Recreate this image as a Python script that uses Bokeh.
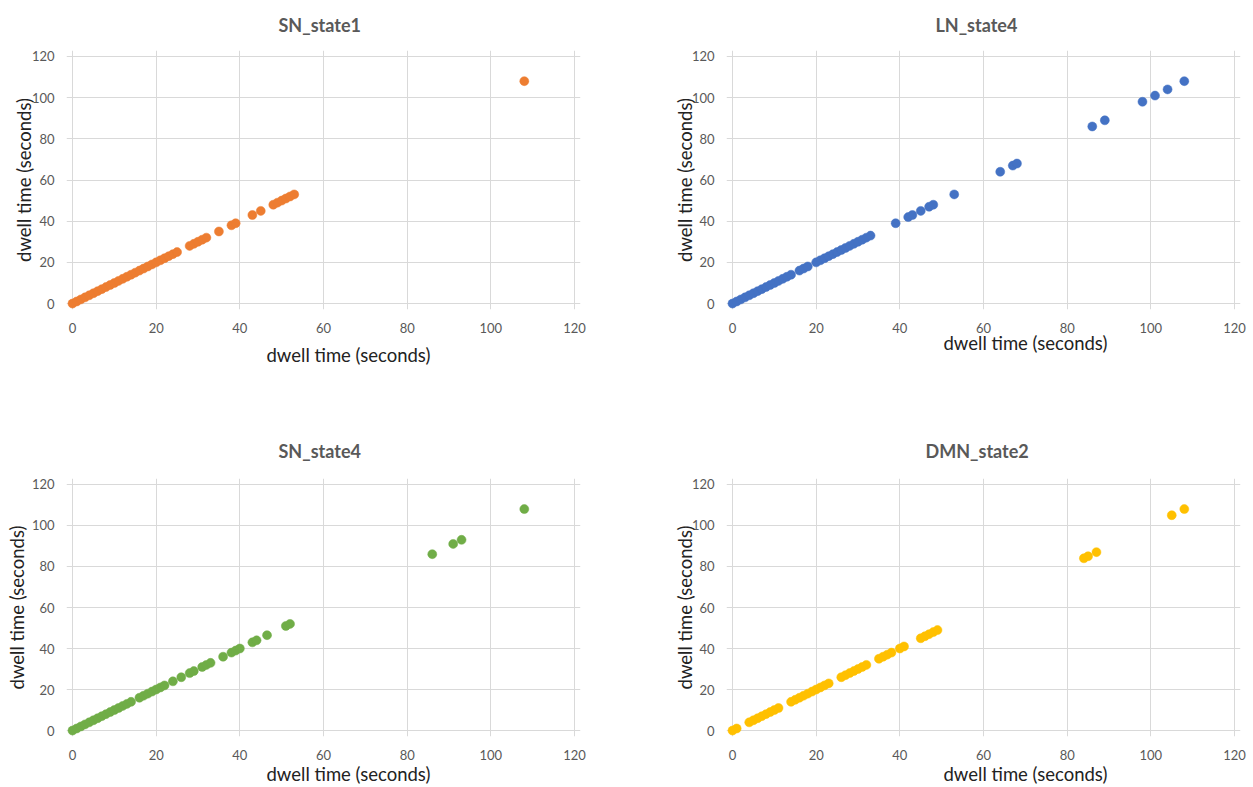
from bokeh.plotting import figure
from bokeh.layouts import column, row
from bokeh.models import FixedTicker, Range1d, Title
from bokeh.embed import file_html
from bokeh.resources import INLINE

# ---------------- data (dwell time plotted against itself) ----------------
TICKS = [0, 20, 40, 60, 80, 100, 120]
TITLES = ["SN_state1", "LN_state4", "SN_state4", "DMN_state2"]
COLORS = ["#ED7D31", "#4472C4", "#70AD47", "#FFC000"]
AXIS_LABEL = "dwell time (seconds)"

SN_STATE1 = [0, 1, 2, 3, 4, 5, 6, 7, 8, 9, 10, 11, 12, 13, 14, 15, 16, 17, 18, 19,
             20, 21, 22, 23, 24, 25, 28, 29, 30, 31, 32, 35, 38, 39, 43, 45,
             48, 49, 50, 51, 52, 53, 108]
LN_STATE4 = [0, 1, 2, 3, 4, 5, 6, 7, 8, 9, 10, 11, 12, 13, 14, 16, 17, 18,
             20, 21, 22, 23, 24, 25, 26, 27, 28, 29, 30, 31, 32, 33, 39, 42, 43,
             45, 47, 48, 53, 64, 67, 68, 86, 89, 98, 101, 104, 108]
SN_STATE4 = [0, 1, 2, 3, 4, 5, 6, 7, 8, 9, 10, 11, 12, 13, 14, 16, 17, 18, 19,
             20, 21, 22, 24, 26, 28, 29, 31, 32, 33, 36, 38, 39, 40, 43, 44, 46.5,
             51, 52, 86, 91, 93, 108]
DMN_STATE2 = [0, 1, 4, 5, 6, 7, 8, 9, 10, 11, 14, 15, 16, 17, 18, 19, 20, 21, 22, 23,
              26, 27, 28, 29, 30, 31, 32, 35, 36, 37, 38, 40, 41,
              45, 46, 47, 48, 49, 84, 85, 87, 105, 108]
SERIES = [SN_STATE1, LN_STATE4, SN_STATE4, DMN_STATE2]

FONT = "Lato"
GRID = "#d9d9d9"
TICK_COLOR = "#595959"
LABEL_COLOR = "#222222"
PAD = 6  # px of frame beyond the 0/120 gridlines so markers are not clipped


def make_panel(title, vals, color, origin, inner, size, ylab_standoff,
               title_offset, title_valign, title_standoff, xlab_offset, xlab_standoff):
    ox, oy = origin
    x0, x1, ytop, ybot = inner
    W, H = size
    ppx = (x1 - x0) / 120.0
    ppy = (ybot - ytop) / 120.0
    p = figure(width=W, height=H,
               x_range=Range1d(-PAD / ppx, 120 + PAD / ppx),
               y_range=Range1d(-PAD / ppy, 120 + PAD / ppy),
               output_backend="svg", toolbar_location=None,
               min_border_left=x0 - PAD - ox,
               min_border_right=(ox + W) - (x1 + PAD),
               min_border_top=ytop - PAD - oy,
               min_border_bottom=(oy + H) - (ybot + PAD))
    p.background_fill_color = "white"
    p.border_fill_color = "white"
    p.outline_line_color = None

    p.title.text = title
    p.title.align = "left"
    p.title.vertical_align = title_valign
    p.title.offset = title_offset
    p.title.standoff = title_standoff
    p.title.text_font = FONT
    p.title.text_font_style = "bold"
    p.title.text_font_size = "18px"
    p.title.text_color = "#595959"

    p.scatter(x=vals, y=vals, size=9, fill_color=color, line_color=color, line_width=0.5)

    for ax in (p.xaxis[0], p.yaxis[0]):
        ax.ticker = FixedTicker(ticks=TICKS)
        ax.axis_line_color = None
        ax.major_tick_line_color = None
        ax.minor_tick_line_color = None
        ax.major_label_text_font = FONT
        ax.major_label_text_font_size = "13px"
        ax.major_label_text_color = TICK_COLOR
    p.xaxis.major_label_standoff = 13 - PAD
    p.yaxis.major_label_standoff = 12 - PAD
    for g in (p.xgrid[0], p.ygrid[0]):
        g.ticker = FixedTicker(ticks=TICKS)
        g.grid_line_color = GRID
        g.grid_line_width = 1

    p.yaxis.axis_label = AXIS_LABEL
    p.yaxis.axis_label_standoff = ylab_standoff
    p.yaxis.axis_label_text_font = FONT
    p.yaxis.axis_label_text_font_style = "normal"
    p.yaxis.axis_label_text_font_size = "18.5px"
    p.yaxis.axis_label_text_color = LABEL_COLOR

    p.add_layout(Title(text=AXIS_LABEL, align="left", offset=xlab_offset,
                       standoff=xlab_standoff, text_font=FONT,
                       text_font_style="normal", text_font_size="18.5px",
                       text_color=LABEL_COLOR), "below")
    return p


LW, RW = 620, 633
TH, BH = 420, 367

p1 = make_panel(TITLES[0], SERIES[0], COLORS[0], (0, 0), (72, 574, 54, 303), (LW, TH),
                -6, 212, "top", 26, 200, 11.5)
p2 = make_panel(TITLES[1], SERIES[1], COLORS[1], (LW, 0), (732, 1234, 54, 303), (RW, TH),
                -7, 209, "top", 26, 217, -11)
p3 = make_panel(TITLES[2], SERIES[2], COLORS[2], (0, TH), (72, 574, 482, 730), (LW, BH),
                1, 212, "bottom", 34, 200, -3)
p4 = make_panel(TITLES[3], SERIES[3], COLORS[3], (LW, TH), (732, 1234, 482, 730), (RW, BH),
                -7, 199, "bottom", 34, 217, -3)

layout = column(row(p1, p2), row(p3, p4))
open("out.html", "w").write(file_html(layout, INLINE))
